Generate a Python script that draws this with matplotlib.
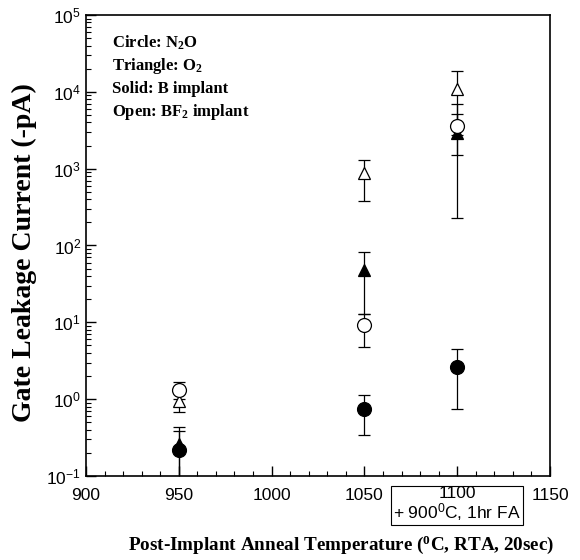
import matplotlib

matplotlib.use("Agg")
import matplotlib.pyplot as plt  # noqa: E402
from matplotlib.ticker import LogLocator, MultipleLocator  # noqa: E402

plt.rcParams["mathtext.default"] = "regular"

# --- data (x = RTA temperature, y = leakage in -pA) ---
temps = [950, 1050, 1100]

n2o_b = [0.22, 0.74, 2.6]          # solid circle
n2o_b_lo = [0.05, 0.34, 0.74]
n2o_b_hi = [0.38, 1.13, 4.5]

o2_b = [0.26, 48.0, 2900.0]        # solid triangle
o2_b_lo = [0.05, 13.0, 2740.0]
o2_b_hi = [0.44, 82.0, 5100.0]

n2o_bf2 = [1.3, 9.2, 3600.0]       # open circle
n2o_bf2_lo = [1.0, 4.75, 230.0]
n2o_bf2_hi = [1.66, 13.0, 6900.0]

o2_bf2 = [0.95, 870.0, 10900.0]    # open triangle
o2_bf2_lo = [0.68, 383.0, 1520.0]
o2_bf2_hi = [1.3, 1290.0, 18700.0]

x_ticks = [900, 950, 1000, 1050, 1100, 1150]
legend_lines = ["Circle: N$_2$O", "Triangle: O$_2$",
                "Solid: B implant", "Open: BF$_2$ implant"]

SERIF = "Liberation Serif"
SANS = "Liberation Sans"


def _err(y, lo, hi):
    return [[v - l for v, l in zip(y, lo)], [h - v for v, h in zip(y, hi)]]


fig = plt.figure(figsize=(5.8, 5.6), dpi=100)
ax = fig.add_axes([86 / 580, 1 - 476 / 560, 464 / 580, 461 / 560])

series = [
    (o2_b, o2_b_lo, o2_b_hi, "^", "black", 9),
    (n2o_b, n2o_b_lo, n2o_b_hi, "o", "black", 10),
    (o2_bf2, o2_bf2_lo, o2_bf2_hi, "^", "white", 9),
    (n2o_bf2, n2o_bf2_lo, n2o_bf2_hi, "o", "white", 10),
]
for y, lo, hi, mk, fc, ms in series:
    ax.errorbar(temps, y, yerr=_err(y, lo, hi), fmt=mk, mfc=fc, mec="black",
                ms=ms, mew=0.9, ecolor="black", elinewidth=0.9, capsize=4,
                capthick=0.9, zorder=3)

ax.set_yscale("log")
ax.set_xlim(900, 1150)
ax.set_ylim(0.1, 1e5)
ax.set_xticks(x_ticks)
ax.set_xticklabels(["" if t == 1100 else str(t) for t in x_ticks],
                   fontfamily=SANS)
ax.xaxis.set_minor_locator(MultipleLocator(10))
ax.yaxis.set_major_locator(LogLocator(base=10, numticks=10))
ax.yaxis.set_minor_locator(LogLocator(base=10, subs=range(2, 10), numticks=20))
ax.tick_params(which="both", direction="in", top=False, right=False,
               labelsize=12.5)
ax.tick_params(axis="x", pad=9)
ax.tick_params(which="major", length=7, width=1)
ax.tick_params(which="minor", length=3.5, width=0.8)
for lab in ax.get_xticklabels() + ax.get_yticklabels():
    lab.set_fontfamily(SANS)

# the 1100 tick carries a boxed two-line label
ax.text(1100, -0.022, "1100\n+ 900$^0$C, 1hr FA",
        transform=ax.get_xaxis_transform(), ha="center", va="top",
        fontfamily=SANS, fontsize=12.5, linespacing=1.0,
        bbox=dict(boxstyle="square,pad=0.12", fc="white", ec="black", lw=0.8))

for sp in ax.spines.values():
    sp.set_linewidth(1.2)

for i, s in enumerate(legend_lines):
    ax.text(0.056, 0.94 - i * 0.05, s, transform=ax.transAxes, ha="left",
            va="center", fontfamily=SERIF, fontweight="bold", fontsize=12)

ax.set_ylabel("Gate Leakage Current (-pA)", fontfamily=SERIF,
              fontweight="bold", fontsize=20)
ax.yaxis.set_label_coords(-0.105, 0.484)
ax.set_xlabel("Post-Implant Anneal Temperature ($^0$C, RTA, 20sec)",
              fontfamily=SERIF, fontweight="bold", fontsize=13.8)
ax.xaxis.set_label_coords(0.55, -0.124)

fig.savefig("out.png", dpi=100)
